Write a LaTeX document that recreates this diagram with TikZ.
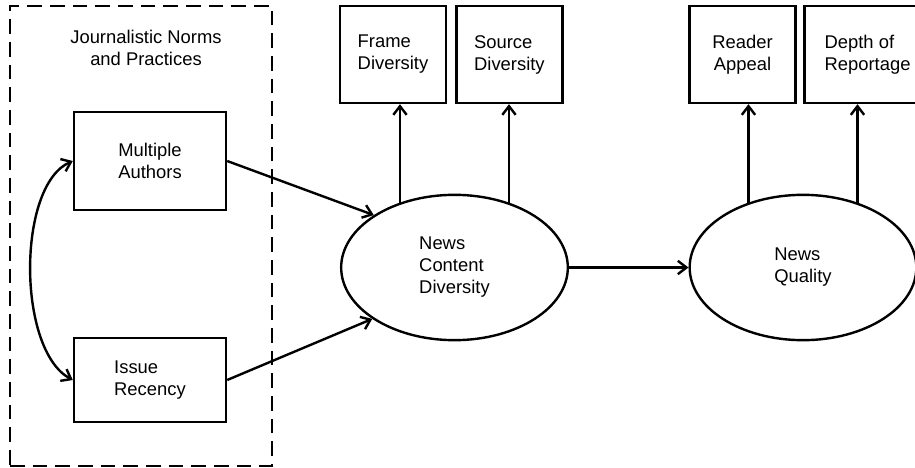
\documentclass[tikz,border=0pt]{standalone}
\usepackage{fontspec}
\setmainfont{Liberation Sans}
\usetikzlibrary{positioning,arrows.meta,shapes.geometric}

\begin{document}
\begin{tikzpicture}[x=0.75pt,y=-0.75pt,line width=1.8pt,>={Straight Barb[length=6.5pt,width=10pt]},
		font=\fontsize{13.8}{16.5}\selectfont,
		box/.style={draw,rectangle,inner sep=0pt,minimum width=114pt},
		ind/.style={draw,rectangle,inner sep=0pt,minimum width=79.5pt,minimum height=72.75pt,align=left},
		latent/.style={draw,ellipse,inner sep=0pt,minimum width=170pt,minimum height=109pt,align=left},
		group/.style={draw,dash pattern=on 11pt off 6pt,minimum width=196.5pt,minimum height=345pt}]
		\clip (0,0) rectangle (915,468);

		% exogenous block
		\node[group](norms) at (141,236){};
		\node[align=center](norms_lbl) at (146,48){Journalistic Norms\\and Practices};
		\node[box,align=center,minimum height=73.5pt](auth) at (150,161){Multiple\\Authors};
		\node[box,align=left,minimum height=63pt](rec) at (150,380){Issue\\Recency};

		% latent variables and indicators
		\node[latent](ncd) at (454.5,267.5){News\\Content\\Diversity};
		\node[latent](nq) at (803,267.5){News\\Quality};
		\node[ind](fd) at (393,54.5){Frame\\Diversity};
		\node[ind](sd)[right=6pt of fd]{Source\\Diversity};
		\node[ind,align=center](ra) at (742.5,54.5){Reader\\Appeal};
		\node[ind,minimum width=94.5pt](dr)[right=5pt of ra]{Depth of\\Reportage};

		\draw[<->] (rec.west) .. controls +(-56,-30) and +(-56,24) .. (auth.west);
		\draw[->] (auth.east) -- (ncd.147);
		\draw[->] (rec.east) -- (ncd.212);
		\draw[->] (ncd.east) -- (nq.west);
		\draw[->] (ncd.130) -- (ncd.130 |- fd.south);
		\draw[->] (ncd.50) -- (ncd.50 |- sd.south);
		\draw[->] (nq.130) -- (nq.130 |- ra.south);
		\draw[->] (nq.50) -- (nq.50 |- dr.south);
	\end{tikzpicture}
\end{document}
